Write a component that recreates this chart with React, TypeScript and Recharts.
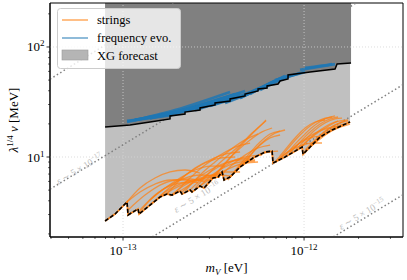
import React from 'react'
import {
  Area,
  ComposedChart,
  Legend,
  Line,
  ReferenceArea,
  ReferenceDot,
  ReferenceLine,
  XAxis,
  YAxis,
} from 'recharts'

type Pt = [number, number]

const SERIF = '"Liberation Serif", "DejaVu Serif", serif'

const X_DOMAIN: [number, number] = [3.95e-14, 3.52e-12]
const Y_DOMAIN: [number, number] = [1.875, 251]
const X_TICKS = [
  4e-14, 5e-14, 6e-14, 7e-14, 8e-14, 9e-14, 1e-13, 2e-13, 3e-13, 4e-13, 5e-13, 6e-13, 7e-13,
  8e-13, 9e-13, 1e-12, 2e-12, 3e-12,
]
const Y_TICKS = [2, 3, 4, 5, 6, 7, 8, 9, 10, 20, 30, 40, 50, 60, 70, 80, 90, 100, 200]
const X_GRID = [1e-13, 1e-12]
const Y_GRID = [10, 100]

// XG forecast: lower (dashed) and upper (solid) envelopes
const xgLower: Pt[] = [
  [7.96e-14, 2.62], [9.03e-14, 3.03], [1.052e-13, 3.9], [1.066e-13, 2.97], [1.21e-13, 3.37],
  [1.226e-13, 3.03], [1.41e-13, 3.66], [1.601e-13, 4.33], [1.75e-13, 4.61], [1.865e-13, 4.51],
  [2.065e-13, 4.91], [2.118e-13, 4.61], [2.345e-13, 5.01], [2.405e-13, 4.81], [2.663e-13, 5.45],
  [2.803e-13, 5.22], [3.142e-13, 6.44], [3.349e-13, 6.58], [3.524e-13, 7.31], [3.614e-13, 6.18],
  [3.902e-13, 6.58], [4.431e-13, 8.11], [5.227e-13, 9.79], [6.089e-13, 11.1], [6.656e-13, 11.3],
  [6.741e-13, 8.82], [7.852e-13, 10.0], [8.919e-13, 11.3], [9.75e-13, 12.3], [9.874e-13, 10.6],
  [1.107e-12, 12.85], [1.226e-12, 15.2], [1.428e-12, 17.6], [1.643e-12, 19.5], [1.795e-12, 20.8],
]
const xgUpper: Pt[] = [
  [7.96e-14, 18.7], [1.093e-13, 19.5], [1.41e-13, 20.8], [1.818e-13, 22.2], [1.818e-13, 23.6],
  [2.2e-13, 24.6], [2.2e-13, 25.6], [2.663e-13, 26.7], [2.663e-13, 27.9], [3.223e-13, 29.7],
  [3.223e-13, 31.0], [3.902e-13, 32.3], [3.902e-13, 33.7], [4.721e-13, 35.9], [4.721e-13, 37.4],
  [5.57e-13, 39.8], [5.57e-13, 41.5], [6.246e-13, 42.4], [6.246e-13, 44.2], [7.185e-13, 46.1],
  [7.37e-13, 49.1], [8.155e-13, 51.2], [8.155e-13, 55.6], [1.079e-12, 59.3], [1.483e-12, 63.1],
  [1.522e-12, 70.0], [1.818e-12, 71.5],
]

const strings: Pt[][] = [
  [[1.052e-13, 3.9], [1.241e-13, 5.22], [1.502e-13, 6.44], [1.818e-13, 7.31], [2.2e-13, 7.62], [2.663e-13, 7.15]],
  [[1.066e-13, 3.3], [1.323e-13, 4.51], [1.601e-13, 5.56], [1.938e-13, 6.18], [2.345e-13, 6.31], [2.838e-13, 5.93]],
  [[1.241e-13, 3.3], [1.502e-13, 4.51], [1.818e-13, 5.56], [2.2e-13, 6.44], [2.663e-13, 6.86], [3.223e-13, 6.72]],
  [[1.41e-13, 4.06], [1.706e-13, 5.22], [2.065e-13, 6.44], [2.499e-13, 7.62], [3.025e-13, 8.28], [3.66e-13, 8.28]],
  [[1.601e-13, 4.42], [1.938e-13, 5.81], [2.345e-13, 7.31], [2.838e-13, 8.82], [3.435e-13, 9.79], [4.158e-13, 10.0]],
  [[1.75e-13, 4.61], [2.065e-13, 6.18], [2.499e-13, 7.94], [3.025e-13, 9.39], [3.66e-13, 10.6], [4.431e-13, 11.1]],
  [[1.938e-13, 4.71], [2.345e-13, 6.44], [2.838e-13, 8.45], [3.435e-13, 10.4], [4.158e-13, 12.3], [5.032e-13, 13.4]],
  [[2.2e-13, 4.91], [2.663e-13, 6.86], [3.223e-13, 9.01], [3.902e-13, 11.6], [4.721e-13, 14.3], [5.57e-13, 16.2]],
  [[2.499e-13, 5.22], [3.025e-13, 7.31], [3.66e-13, 9.79], [4.431e-13, 12.85], [5.16e-13, 16.5], [5.861e-13, 19.95], [6.166e-13, 21.7]],
  [[2.838e-13, 5.45], [3.435e-13, 7.62], [4.158e-13, 11.1], [4.905e-13, 14.9], [5.57e-13, 18.35], [6.166e-13, 21.3]],
  [[3.142e-13, 6.44], [3.66e-13, 8.82], [4.319e-13, 11.6], [5.032e-13, 14.3], [5.861e-13, 16.9], [6.656e-13, 18.35]],
  [[3.803e-13, 6.18], [4.319e-13, 8.11], [5.032e-13, 10.9], [5.714e-13, 13.7], [6.49e-13, 16.2], [7.37e-13, 17.2]],
  [[4.431e-13, 8.11], [5.032e-13, 10.4], [5.714e-13, 12.85], [6.49e-13, 14.9], [7.37e-13, 15.85]],
  [[1.818e-13, 4.42], [2.2e-13, 5.56], [2.663e-13, 6.44], [3.223e-13, 6.86], [3.902e-13, 6.72]],
  [[2.663e-13, 5.45], [3.223e-13, 6.72], [3.902e-13, 7.94], [4.721e-13, 8.82], [5.57e-13, 9.01]],
  [[3.435e-13, 6.72], [4.002e-13, 8.45], [4.721e-13, 10.4], [5.57e-13, 12.1], [6.49e-13, 12.85]],
  [[1.226e-13, 3.1], [1.41e-13, 4.06], [1.643e-13, 5.01], [1.938e-13, 5.68], [2.345e-13, 5.93]],
  [[2.118e-13, 4.81], [2.499e-13, 6.18], [3.025e-13, 7.62], [3.66e-13, 8.82], [4.431e-13, 9.39], [5.362e-13, 9.39]],
  [[4.721e-13, 8.82], [5.362e-13, 11.6], [6.089e-13, 14.3], [6.916e-13, 16.5], [7.852e-13, 17.6]],
  [[1.052e-13, 3.9], [1.241e-13, 4.81], [1.502e-13, 5.68], [1.818e-13, 6.18], [2.2e-13, 6.18], [2.597e-13, 5.81]],
  [[1.41e-13, 3.66], [1.706e-13, 4.81], [2.065e-13, 5.68], [2.499e-13, 6.18], [3.025e-13, 6.18]],
  [[2.345e-13, 5.01], [2.838e-13, 6.72], [3.435e-13, 8.28], [4.158e-13, 9.39], [5.032e-13, 9.79]],
  [[1.601e-13, 4.33], [1.938e-13, 5.22], [2.345e-13, 5.93], [2.838e-13, 6.44], [3.435e-13, 6.58]],
  [[2.663e-13, 5.45], [3.102e-13, 6.86], [3.66e-13, 8.11], [4.431e-13, 9.01], [5.362e-13, 9.2]],
  [[3.902e-13, 6.58], [4.431e-13, 8.28], [5.16e-13, 9.79], [6.089e-13, 10.9], [7.185e-13, 11.3]],
  [[2.065e-13, 4.91], [2.499e-13, 5.93], [3.025e-13, 6.72], [3.66e-13, 7.31], [4.431e-13, 7.31]],
  [[3.025e-13, 6.44], [3.524e-13, 7.94], [4.158e-13, 9.39], [5.032e-13, 10.2], [5.861e-13, 10.4]],
  [[6.916e-13, 9.01], [7.852e-13, 11.6], [8.919e-13, 14.9], [1.013e-12, 18.35], [1.15e-12, 20.8], [1.306e-12, 21.7]],
  [[7.37e-13, 9.79], [8.37e-13, 12.6], [9.504e-13, 15.85], [1.079e-12, 19.1], [1.226e-12, 21.7], [1.428e-12, 23.1]],
  [[7.852e-13, 10.2], [8.919e-13, 13.1], [1.013e-12, 16.2], [1.15e-12, 19.5], [1.306e-12, 22.2], [1.483e-12, 23.6]],
  [[8.37e-13, 10.9], [9.504e-13, 13.7], [1.079e-12, 16.9], [1.226e-12, 19.95], [1.392e-12, 22.2], [1.541e-12, 23.1]],
  [[8.919e-13, 11.3], [1.013e-12, 14.3], [1.15e-12, 17.6], [1.306e-12, 20.4], [1.483e-12, 22.2], [1.621e-12, 22.6]],
  [[9.504e-13, 12.1], [1.079e-12, 14.9], [1.226e-12, 17.6], [1.392e-12, 19.95], [1.581e-12, 21.3], [1.75e-12, 21.7]],
  [[1.013e-12, 11.6], [1.15e-12, 14.3], [1.306e-12, 17.2], [1.483e-12, 19.5], [1.685e-12, 21.3]],
  [[1.079e-12, 12.6], [1.226e-12, 15.5], [1.392e-12, 18.35], [1.581e-12, 20.4], [1.75e-12, 21.3]],
  [[1.226e-12, 15.2], [1.392e-12, 17.6], [1.581e-12, 19.5], [1.795e-12, 20.8]],
  [[7.185e-13, 9.39], [8.37e-13, 11.6], [9.504e-13, 13.4], [1.079e-12, 14.9], [1.226e-12, 15.5]],
  [[9.504e-13, 12.1], [1.107e-12, 15.2], [1.306e-12, 18.35], [1.541e-12, 21.3]],
  [[6.916e-13, 9.01], [8.155e-13, 11.1], [9.504e-13, 12.6], [1.107e-12, 13.4], [1.257e-12, 13.4]],
  [[9.874e-13, 10.9], [1.15e-12, 13.4], [1.357e-12, 16.5], [1.581e-12, 18.7], [1.795e-12, 19.95]],
  [[8.37e-13, 11.1], [9.75e-13, 13.97], [1.15e-12, 16.5], [1.357e-12, 18.35], [1.581e-12, 19.1]],
]

const freqEvo: Pt[][] = [
  [[1.052e-13, 21.3], [1.41e-13, 22.6], [1.865e-13, 24.1]],
  [[1.165e-13, 21.7], [1.601e-13, 24.1], [2.2e-13, 26.2]],
  [[1.41e-13, 22.6], [1.938e-13, 25.1], [2.663e-13, 28.5]],
  [[1.706e-13, 24.1], [2.345e-13, 27.3], [3.223e-13, 31.6]],
  [[2.065e-13, 25.6], [2.838e-13, 29.7], [3.902e-13, 34.4]],
  [[2.499e-13, 26.7], [3.223e-13, 30.3], [4.431e-13, 36.6]],
  [[3.025e-13, 29.1], [4.158e-13, 34.4], [5.714e-13, 42.4]],
  [[3.66e-13, 31.0], [4.905e-13, 37.4], [6.49e-13, 46.1]],
  [[4.431e-13, 34.4], [5.714e-13, 42.4], [7.56e-13, 52.3]],
  [[5.714e-13, 40.6], [7.37e-13, 50.1], [9.504e-13, 58.0]],
  [[6.916e-13, 50.1], [8.37e-13, 54.5], [1.013e-12, 59.3]],
  [[9.504e-13, 61.8], [1.195e-12, 65.8], [1.483e-12, 70.0]],
  [[1.013e-12, 64.4], [1.226e-12, 67.2], [1.428e-12, 70.0]],
  [[1.052e-13, 20.8], [1.938e-13, 26.7], [3.902e-13, 39.0]],
  [[1.165e-13, 21.7], [2.065e-13, 26.2], [3.223e-13, 32.3]],
  [[1.41e-13, 22.6], [2.345e-13, 27.9], [4.158e-13, 37.4]],
  [[1.601e-13, 23.6], [2.663e-13, 29.7], [4.431e-13, 38.2]],
  [[1.938e-13, 24.6], [3.025e-13, 31.0], [4.721e-13, 39.8]],
  [[4.431e-13, 34.4], [6.089e-13, 44.2], [7.852e-13, 54.5]],
  [[5.032e-13, 37.4], [6.49e-13, 47.1], [8.37e-13, 55.6]],
]

// lines of constant epsilon (slope 1 in log-log)
const epsLines: Pt[][] = [
  [[3.95e-14, 51], [1.89e-13, 251]],
  [[3.95e-14, 5.1], [1.94e-12, 251]],
  [[1.45e-13, 1.875], [3.52e-12, 45.4]],
  [[1.45e-12, 1.875], [3.52e-12, 4.54]],
]
const epsLabels = [
  { m: 5.75e-14, lam: 7.8, exp: '−17' },
  { m: 2.56e-13, lam: 4.33, exp: '−16' },
  { m: 2.09e-12, lam: 3.03, exp: '−15' },
]

const rows = (pts: Pt[]) => pts.map(([m, lam]) => ({ m, lam }))
const lightBand = xgLower.map(([m, lam]) => ({ m, band: [lam, Y_DOMAIN[1]] }))
const darkBand = xgUpper.map(([m, lam]) => ({ m, band: [lam, Y_DOMAIN[1]] }))

const isMajor = (v: number) => Math.abs(Math.log10(v) - Math.round(Math.log10(v))) < 1e-6
const expOf = (v: number) => {
  const e = Math.round(Math.log10(v))
  return e < 0 ? '−' + Math.abs(e) : String(e)
}

function XTick(props: any) {
  const { x, y, payload } = props
  const major = isMajor(payload.value)
  return (
    <g>
      <line x1={x} x2={x} y1={y} y2={y + (major ? 3.5 : 2)} stroke="#000" strokeWidth={major ? 0.8 : 0.6} />
      {major && (
        <text x={x} y={y + 18} textAnchor="middle" fontFamily={SERIF} fontSize={13} fill="#000">
          10
          <tspan dy={-5} fontSize={9}>
            {expOf(payload.value)}
          </tspan>
        </text>
      )}
    </g>
  )
}

function YTick(props: any) {
  const { x, y, payload } = props
  const major = isMajor(payload.value)
  return (
    <g>
      <line x1={x - (major ? 3.5 : 2)} x2={x} y1={y} y2={y} stroke="#000" strokeWidth={major ? 0.8 : 0.6} />
      {major && (
        <text x={x - 5.5} y={y + 4.5} textAnchor="end" fontFamily={SERIF} fontSize={13} fill="#000">
          10
          <tspan dy={-5} fontSize={9}>
            {expOf(payload.value)}
          </tspan>
        </text>
      )}
    </g>
  )
}

function XLabel(props: any) {
  const vb = props.viewBox
  return (
    <text x={vb.x + vb.width / 2} y={vb.y + 35} textAnchor="middle" fontFamily={SERIF} fontSize={13} fill="#000">
      <tspan fontStyle="italic">m</tspan>
      <tspan fontStyle="italic" fontSize={9} dy={3}>V</tspan>
      <tspan dy={-3}> [eV]</tspan>
    </text>
  )
}

function YLabel(props: any) {
  const vb = props.viewBox
  const cx = vb.x + 18
  const cy = vb.y + vb.height / 2
  return (
    <text
      x={cx}
      y={cy}
      transform={`rotate(-90 ${cx} ${cy})`}
      textAnchor="middle"
      fontFamily={SERIF}
      fontSize={13}
      fill="#000"
    >
      <tspan fontStyle="italic">λ</tspan>
      <tspan fontSize={9} dy={-5}>1/4</tspan>
      <tspan fontStyle="italic" dy={5}> v</tspan>
      <tspan> [MeV]</tspan>
    </text>
  )
}

function EpsText(props: any) {
  const { cx, cy, exp } = props
  return (
    <text
      x={cx}
      y={cy + 3}
      transform={`rotate(-31 ${cx} ${cy})`}
      textAnchor="middle"
      fontFamily={SERIF}
      fontSize={9.5}
      fill="#bdbdbd"
    >
      <tspan fontStyle="italic">ε</tspan> ∼ 5 × 10
      <tspan dy={-3.5} fontSize={7}>
        {exp}
      </tspan>
    </text>
  )
}

function LegendBox() {
  return (
    <svg width={125} height={62} style={{ display: 'block' }}>
      <rect x={0.5} y={0.5} width={123} height={60} rx={3} fill="#fff" fillOpacity={0.8} stroke="#cccccc" />
      <line x1={5} x2={31} y1={12} y2={12} stroke="#ff7f0e" strokeOpacity={0.5} strokeWidth={2} />
      <text x={40} y={16} fontFamily={SERIF} fontSize={12.5} fill="#000">strings</text>
      <line x1={5} x2={31} y1={30} y2={30} stroke="#1f77b4" strokeOpacity={0.5} strokeWidth={2} />
      <text x={40} y={34} fontFamily={SERIF} fontSize={12.5} fill="#000">frequency evo.</text>
      <rect x={5} y={42} width={26} height={10} fill="#b5b5b5" stroke="#9a9a9a" strokeWidth={0.6} />
      <text x={40} y={51.5} fontFamily={SERIF} fontSize={12.5} fill="#000">XG forecast</text>
    </svg>
  )
}

export default function App(): React.ReactElement {
  return (
    <div style={{ position: 'absolute', left: 0, top: 0, background: '#fff' }}>
      <ComposedChart width={407} height={280} margin={{ top: 3, right: 4, left: 0, bottom: 0 }}>
        <XAxis
          dataKey="m"
          type="number"
          scale="log"
          domain={X_DOMAIN}
          allowDataOverflow
          ticks={X_TICKS}
          interval={0}
          tickSize={0}
          tickMargin={0}
          tickLine={false}
          tick={<XTick />}
          axisLine={{ stroke: '#000', strokeWidth: 1 }}
          height={43}
          label={XLabel}
        />
        <YAxis
          type="number"
          scale="log"
          domain={Y_DOMAIN}
          allowDataOverflow
          ticks={Y_TICKS}
          interval={0}
          tickSize={0}
          tickMargin={0}
          tickLine={false}
          tick={<YTick />}
          axisLine={{ stroke: '#000', strokeWidth: 1 }}
          width={50}
          label={YLabel}
        />
        <Legend
          layout="vertical"
          verticalAlign="middle"
          align="center"
          wrapperStyle={{ left: 57, top: 8 }}
          content={() => <LegendBox />}
        />

        <Area
          data={lightBand}
          dataKey="band"
          type="linear"
          stroke="none"
          fill="#c0c0c0"
          fillOpacity={1}
          isAnimationActive={false}
          legendType="none"
        />
        <Area
          data={darkBand}
          dataKey="band"
          type="linear"
          stroke="none"
          fill="#808080"
          fillOpacity={1}
          isAnimationActive={false}
          legendType="none"
        />

        {X_GRID.map((v) => (
          <ReferenceLine key={`gx-${v}`} x={v} stroke="#d4d4d4" strokeDasharray="1 2" strokeWidth={0.8} />
        ))}
        {Y_GRID.map((v) => (
          <ReferenceLine key={`gy-${v}`} y={v} stroke="#d4d4d4" strokeDasharray="1 2" strokeWidth={0.8} />
        ))}

        {epsLines.map((pts, i) => (
          <Line
            key={`eps-${i}`}
            data={rows(pts)}
            dataKey="lam"
            type="linear"
            stroke="#808080"
            strokeWidth={1.5}
            strokeDasharray="1.5 2.5"
            dot={false}
            activeDot={false}
            isAnimationActive={false}
            legendType="none"
          />
        ))}

        <Line
          data={rows(xgLower)}
          dataKey="lam"
          type="linear"
          stroke="#ff7f0e"
          strokeOpacity={0.9}
          strokeWidth={1.8}
          dot={false}
          activeDot={false}
          isAnimationActive={false}
          legendType="none"
        />
        {strings.map((pts, i) => (
          <Line
            key={`str-${i}`}
            data={rows(pts)}
            dataKey="lam"
            type="monotone"
            stroke="#ff7f0e"
            strokeOpacity={0.7}
            strokeWidth={1.3}
            dot={false}
            activeDot={false}
            isAnimationActive={false}
            legendType="none"
          />
        ))}
        {freqEvo.map((pts, i) => (
          <Line
            key={`fe-${i}`}
            data={rows(pts)}
            dataKey="lam"
            type="monotone"
            stroke="#1f77b4"
            strokeOpacity={0.85}
            strokeWidth={2.8}
            dot={false}
            activeDot={false}
            isAnimationActive={false}
            legendType="none"
          />
        ))}

        <Line
          data={rows(xgLower)}
          dataKey="lam"
          type="linear"
          stroke="#000"
          strokeWidth={1.6}
          strokeDasharray="4 2"
          dot={false}
          activeDot={false}
          isAnimationActive={false}
          legendType="none"
        />
        <Line
          data={rows(xgUpper)}
          dataKey="lam"
          type="linear"
          stroke="#000"
          strokeWidth={1.5}
          dot={false}
          activeDot={false}
          isAnimationActive={false}
          legendType="none"
        />

        {epsLabels.map((l) => (
          <ReferenceDot
            key={l.exp}
            x={l.m}
            y={l.lam}
            r={1}
            ifOverflow="visible"
            shape={(p: any) => <EpsText cx={p.cx} cy={p.cy} exp={l.exp} />}
          />
        ))}

        <ReferenceArea
          x1={X_DOMAIN[0]}
          x2={X_DOMAIN[1]}
          y1={Y_DOMAIN[0]}
          y2={Y_DOMAIN[1]}
          fill="none"
          stroke="#000"
          strokeWidth={1}
          ifOverflow="visible"
        />
      </ComposedChart>
    </div>
  )
}
